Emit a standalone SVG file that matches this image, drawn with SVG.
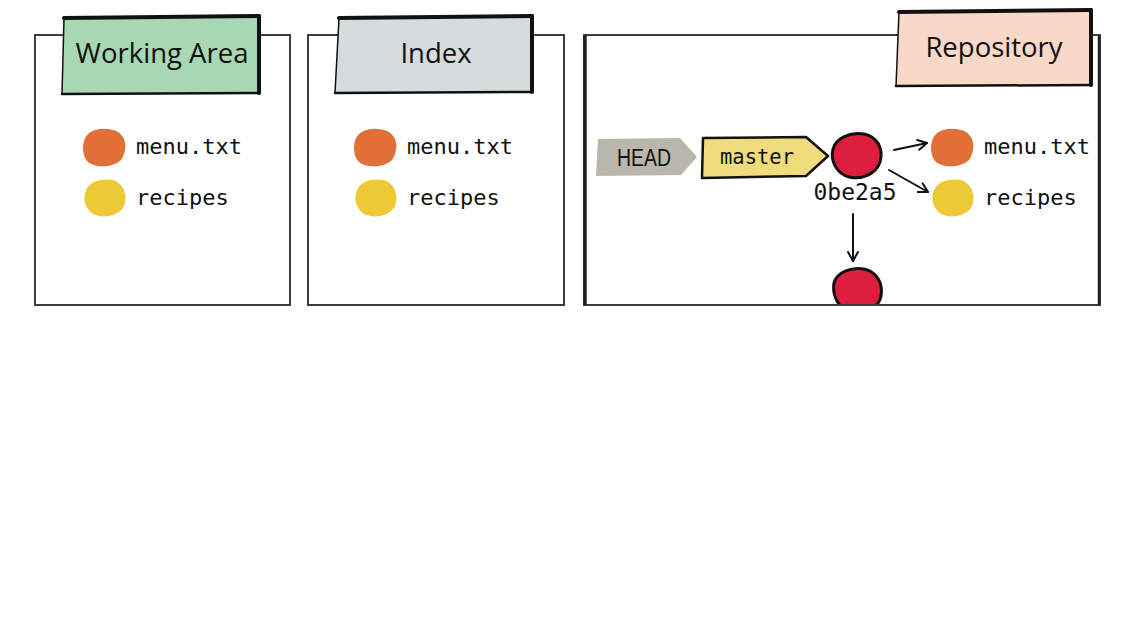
<svg xmlns="http://www.w3.org/2000/svg" width="1135" height="638" viewBox="0 0 1135 638">
<style>
.panel{fill:#ffffff;stroke:#2a2a2a;stroke-width:1.8}
.tabedge{fill:none;stroke:#111;stroke-linecap:round;stroke-linejoin:round}
.title{font-family:"Open Sans","Noto Sans",sans-serif;font-size:27.5px;fill:#111;text-anchor:middle}
.mono{font-family:"DejaVu Sans Mono","Liberation Mono",monospace;font-size:22px;fill:#111}
.orange{fill:#e07035}
.yellow{fill:#ecc935}
.commit{fill:#dd1f3d;stroke:#111;stroke-width:3}
.conn{fill:none;stroke:#111;stroke-width:2;stroke-linecap:round}
</style>
<defs>
<marker id="arr" viewBox="0 0 12 12" refX="10" refY="6" markerWidth="12" markerHeight="12" markerUnits="userSpaceOnUse" orient="auto">
<path d="M1,1 L10,6 L1,11" fill="none" stroke="#111" stroke-width="2" stroke-linecap="round" stroke-linejoin="round"/>
</marker>
<clipPath id="p3clip"><rect x="584" y="30" width="520" height="274"/></clipPath>
</defs>
<rect width="1135" height="638" fill="#ffffff"/>

<g id="working-area">
<rect class="panel" x="35" y="35" width="255" height="270"/>
<path d="M64,18 L259,16 L259,93 L62,94 Z" fill="#a7d7b3"/>
<path class="tabedge" d="M64,18 L259,16" stroke-width="4"/>
<path class="tabedge" d="M259,16 L259,93" stroke-width="4"/>
<path class="tabedge" d="M259,93 L62,94" stroke-width="2.5"/>
<path class="tabedge" d="M64,18 L62,94" stroke-width="1.5"/>
<text class="title" x="162" y="63">Working Area</text>
<path class="orange" d="M84,141 C87,129 103,126 116,131 C127,136 128,150 121,160 C113,168 95,168 88,162 C83,157 82,148 84,141 Z"/>
<text class="mono" x="136" y="154">menu.txt</text>
<path class="yellow" d="M85,193 C88,181 101,178 113,180 C124,184 128,196 124,206 C119,216 103,219 93,214 C86,209 83,201 85,193 Z"/>
<text class="mono" x="136" y="205">recipes</text>
</g>

<g id="index">
<rect class="panel" x="308" y="35" width="256" height="270"/>
<path d="M339,18 L532,16 L532,92 L335,93 Z" fill="#d6dbdd"/>
<path class="tabedge" d="M339,18 L532,16" stroke-width="4"/>
<path class="tabedge" d="M532,16 L532,92" stroke-width="4"/>
<path class="tabedge" d="M532,92 L335,93" stroke-width="2.5"/>
<path class="tabedge" d="M339,18 L335,93" stroke-width="1.5"/>
<text class="title" x="436" y="63">Index</text>
<path class="orange" d="M355,141 C358,129 374,126 387,131 C398,136 399,150 392,160 C384,168 366,168 359,162 C354,157 353,148 355,141 Z"/>
<text class="mono" x="407" y="154">menu.txt</text>
<path class="yellow" d="M356,193 C359,181 372,178 384,180 C395,184 399,196 395,206 C390,216 374,219 364,214 C357,209 354,201 356,193 Z"/>
<text class="mono" x="407" y="205">recipes</text>
</g>

<g id="repository">
<rect class="panel" x="584" y="35" width="516" height="270"/>
<path d="M585,35 L585,305" stroke="#222" stroke-width="3.5"/>
<path d="M1099,35 L1099,305" stroke="#222" stroke-width="2.5"/>
<path d="M899,12 L1091,10 L1091,85 L896,86 Z" fill="#f9d8c7"/>
<path class="tabedge" d="M899,12 L1091,10" stroke-width="4"/>
<path class="tabedge" d="M1091,10 L1091,85" stroke-width="4"/>
<path class="tabedge" d="M1091,85 L896,86" stroke-width="2.5"/>
<path class="tabedge" d="M899,12 L896,86" stroke-width="1.5"/>
<text class="title" x="994" y="57">Repository</text>
</g>

<g id="head">
<path d="M598,139 L680,138 L697,157 L681,175 L596,176 Z" fill="#b9b6ac"/>
<text x="644" y="166" font-family="'Liberation Sans','DejaVu Sans',sans-serif" font-size="23" fill="#111" text-anchor="middle" textLength="54" lengthAdjust="spacingAndGlyphs">HEAD</text>
</g>

<g id="master">
<path d="M703,138 L806,137 L828,156 L806,176 L702,178 Z" fill="#f0dc7c" stroke="#111" stroke-width="2.5" stroke-linejoin="round"/>
<text class="mono" x="757" y="164" text-anchor="middle" style="font-size:20.5px">master</text>
</g>

<g id="commit-0be2a5">
<path class="commit" d="M833,149 C836,138 850,132 864,134 C877,137 884,148 880,162 C876,174 862,180 849,177 C837,174 830,161 833,149 Z"/>
<text class="mono" x="855" y="200" text-anchor="middle" style="font-size:23px">0be2a5</text>
</g>

<g id="repo-menu">
<path class="orange" d="M932,141 C935,129 951,126 964,131 C975,136 976,150 969,160 C961,168 943,168 936,162 C931,157 930,148 932,141 Z"/>
<text class="mono" x="984" y="154">menu.txt</text>
</g>

<g id="repo-recipes">
<path class="yellow" d="M933,193 C936,181 949,178 961,180 C972,184 976,196 972,206 C967,216 951,219 941,214 C934,209 931,201 933,193 Z"/>
<text class="mono" x="984" y="205">recipes</text>
</g>

<g id="commit-parent" clip-path="url(#p3clip)">
<path class="commit" d="M834,283 C837,272 851,267 864,269 C877,272 883,283 881,296 C879,308 865,314 852,312 C839,310 832,296 834,283 Z"/>
</g>

<g id="connectors">
<path class="conn" d="M894,150 L927,143" marker-end="url(#arr)"/>
<path class="conn" d="M889,170 L928,192" marker-end="url(#arr)"/>
<path class="conn" d="M853,214 L853,261" marker-end="url(#arr)"/>
</g>
</svg>
